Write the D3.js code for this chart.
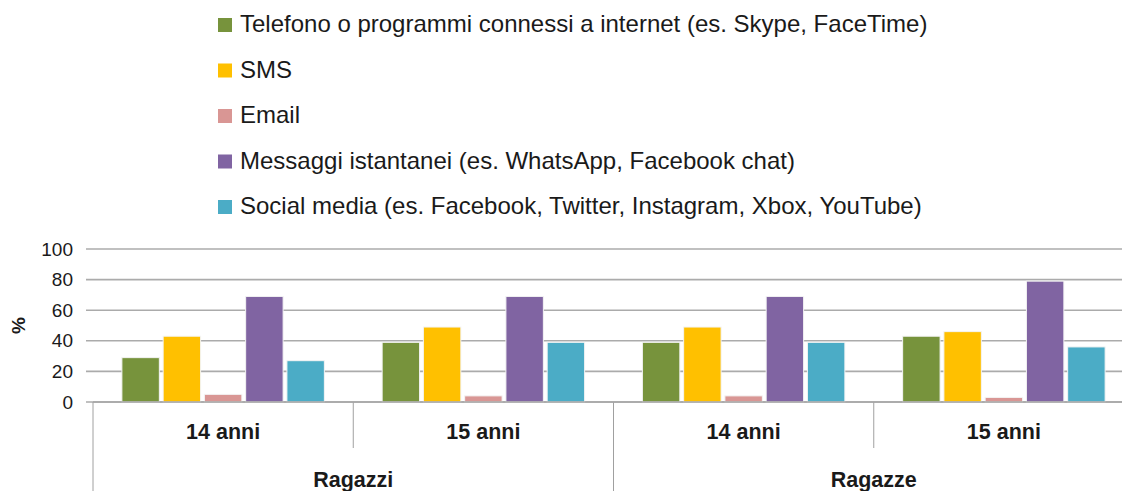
<!DOCTYPE html>
<html>
<head>
<meta charset="utf-8">
<script src="https://cdn.jsdelivr.net/npm/d3@7"></script>
<style>
  html, body { margin: 0; padding: 0; background: #fff; }
  svg { display: block; font-family: "Liberation Sans", Arial, sans-serif; }
</style>
</head>
<body>
<svg id="chart" width="1122" height="491"></svg>
<script>
// Mezzi usati per comunicare con gli amici: ragazzi / ragazze, 14 e 15 anni (%).

const categories = ["14 anni", "15 anni", "14 anni", "15 anni"];
const groups = ["Ragazzi", "Ragazze"];
const seriesNames = [
  "Telefono o programmi connessi a internet (es. Skype, FaceTime)",
  "SMS",
  "Email",
  "Messaggi istantanei (es. WhatsApp, Facebook chat)",
  "Social media (es. Facebook, Twitter, Instagram, Xbox, YouTube)",
];
const telefono = [29, 39, 39, 43];
const sms = [43, 49, 49, 46];
const email = [5, 4, 4, 3];
const messaggi = [69, 69, 69, 79];
const social = [27, 39, 39, 36];
const yTicks = [0, 20, 40, 60, 80, 100];

const seriesValues = [telefono, sms, email, messaggi, social];
const colors = ["#77933C", "#FFC000", "#D99694", "#8064A2", "#4BACC6"];

const svg = d3.select("#chart");
const plot = { left: 93, right: 1134, top: 249, bottom: 402 };

const x0 = d3
  .scaleBand()
  .domain(d3.range(categories.length))
  .range([plot.left, plot.right])
  .padding(0);
const x1 = d3
  .scaleBand()
  .domain(d3.range(seriesNames.length))
  .range([0, x0.bandwidth()])
  .paddingInner(0.092)
  .paddingOuter(0.7);
const y = d3.scaleLinear().domain([0, 100]).range([plot.bottom, plot.top]);

// gridlines
svg
  .append("g")
  .attr("class", "grid")
  .selectAll("line")
  .data(yTicks)
  .join("line")
  .attr("x1", plot.left - 7)
  .attr("x2", plot.right)
  .attr("y1", (d) => y(d))
  .attr("y2", (d) => y(d))
  .attr("stroke", "#ababab")
  .attr("stroke-width", 1.6);

// y axis labels
const yAxis = d3.axisLeft(y).tickValues(yTicks).tickSize(0).tickPadding(20);
svg
  .append("g")
  .attr("class", "axis y-axis")
  .attr("transform", `translate(${plot.left},0)`)
  .call(yAxis)
  .call((g) => g.select(".domain").remove())
  .call((g) =>
    g
      .selectAll("text")
      .attr("font-size", 19)
      .attr("fill", "#1a1a1a")
      .attr("font-family", "'Liberation Sans', Arial, sans-serif"),
  );

svg
  .append("text")
  .attr("transform", `translate(25,${(plot.top + plot.bottom) / 2}) rotate(-90)`)
  .attr("text-anchor", "middle")
  .attr("font-size", 19)
  .attr("font-weight", "bold")
  .attr("fill", "#1a1a1a")
  .text("%");

// bars
const series = svg
  .append("g")
  .attr("class", "bars")
  .selectAll("g")
  .data(seriesValues)
  .join("g")
  .attr("fill", (d, i) => colors[i]);

series
  .selectAll("rect")
  .data((vals, si) => vals.map((v, ci) => ({ v, ci, si })))
  .join("rect")
  .attr("x", (d) => x0(d.ci) + x1(d.si))
  .attr("y", (d) => y(d.v))
  .attr("width", x1.bandwidth())
  .attr("height", (d) => y(0) - y(d.v))
  .attr("stroke", "#f4f4f4")
  .attr("stroke-width", 1);

// category axis lines
const divCat = d3.range(categories.length + 1);
svg
  .append("g")
  .selectAll("line")
  .data(divCat)
  .join("line")
  .attr("x1", (i) => (i < categories.length ? x0(i) : plot.right))
  .attr("x2", (i) => (i < categories.length ? x0(i) : plot.right))
  .attr("y1", plot.bottom)
  .attr("y2", (i) => (i % 2 === 0 ? 491 : 448))
  .attr("stroke", "#a0a0a0")
  .attr("stroke-width", 1);

svg
  .append("line")
  .attr("x1", plot.left)
  .attr("x2", plot.right)
  .attr("y1", plot.bottom)
  .attr("y2", plot.bottom)
  .attr("stroke", "#a6a6a6")
  .attr("stroke-width", 1.6);

svg
  .append("g")
  .selectAll("text")
  .data(categories)
  .join("text")
  .attr("x", (d, i) => x0(i) + x0.bandwidth() / 2)
  .attr("y", 439)
  .attr("text-anchor", "middle")
  .attr("font-size", 21.5)
  .attr("font-weight", "bold")
  .attr("fill", "#1a1a1a")
  .text((d) => d);

svg
  .append("g")
  .selectAll("text")
  .data(groups)
  .join("text")
  .attr("x", (d, i) => x0(i * 2) + x0.bandwidth())
  .attr("y", 487)
  .attr("text-anchor", "middle")
  .attr("font-size", 21.5)
  .attr("font-weight", "bold")
  .attr("fill", "#1a1a1a")
  .text((d) => d);

// legend
const legend = svg
  .append("g")
  .attr("class", "legend")
  .selectAll("g")
  .data(seriesNames)
  .join("g")
  .attr("transform", (d, i) => `translate(218,${32 + i * 45.5})`);

legend
  .append("rect")
  .attr("x", 0)
  .attr("y", -14)
  .attr("width", 14)
  .attr("height", 14)
  .attr("fill", (d, i) => colors[i]);

legend
  .append("text")
  .attr("x", 22)
  .attr("y", 0)
  .attr("font-size", 24)
  .attr("fill", "#1a1a1a")
  .text((d) => d);
</script>
</body>
</html>
